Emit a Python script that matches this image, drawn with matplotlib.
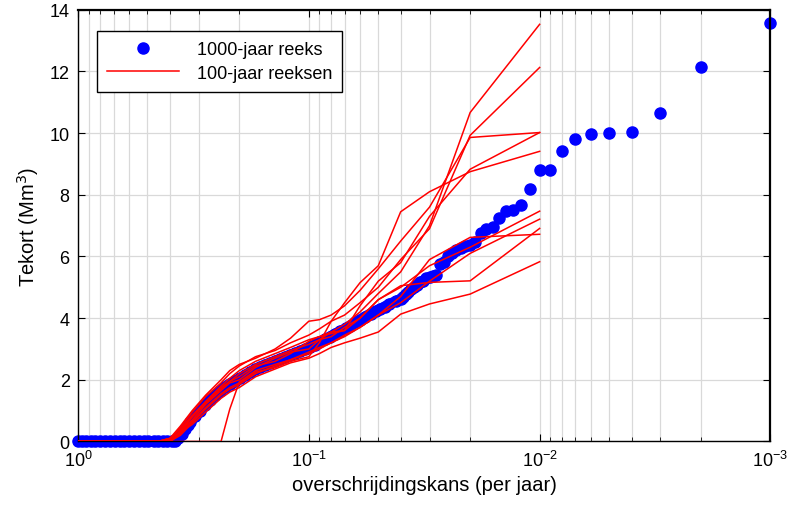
import numpy as np
import matplotlib
matplotlib.use("Agg")
import matplotlib.pyplot as plt

plt.rcParams['font.family'] = ['Liberation Sans', 'DejaVu Sans']

# ---------------- data ----------------
# 1000-year series: rank (exceedance prob = rank/1000) and deficit value
blue_rank = [1, 2, 3, 4, 5, 6, 7, 8, 9, 10, 11, 12, 13, 14, 15, 16, 17, 18, 19, 20,
             21, 22, 23, 24, 25, 26, 27, 28, 29, 30, 31, 32, 33, 34, 35, 36, 37, 38, 39,
             40, 42, 45, 47, 49, 51, 54, 57, 60, 63, 66, 69, 73, 77, 81, 85, 90, 94, 99,
             104, 109, 115, 121, 127, 133, 140, 147, 155, 163, 171, 180, 189, 199, 209,
             220, 231, 243, 255, 268, 282, 296, 311, 327, 335, 344, 356, 369, 380, 392,
             410, 430, 450, 470, 495, 520, 545, 570, 600, 630, 660, 690, 725, 760, 800,
             840, 880, 920, 960, 1000]
blue_val = [13.56, 12.16, 10.66, 10.03, 10.02, 9.96, 9.82, 9.42, 8.81, 8.80, 8.18, 7.66,
            7.51, 7.46, 7.25, 6.96, 6.89, 6.75, 6.46, 6.38, 6.33, 6.26, 6.21, 6.10, 6.02,
            5.83, 5.75, 5.40, 5.37, 5.33, 5.30, 5.22, 5.16, 5.08, 5.00, 4.94, 4.86, 4.78,
            4.70, 4.62, 4.55, 4.45, 4.37, 4.30, 4.24, 4.15, 4.05, 3.95, 3.86, 3.76, 3.67,
            3.58, 3.49, 3.40, 3.31, 3.22, 3.14, 3.07, 3.00, 2.93, 2.86, 2.80, 2.74, 2.68,
            2.61, 2.55, 2.49, 2.42, 2.34, 2.25, 2.15, 2.05, 1.97, 1.88, 1.77, 1.65, 1.50,
            1.35, 1.18, 1.00, 0.82, 0.62, 0.52, 0.40, 0.25, 0.10, 0.03, 0.0,
            0, 0, 0, 0, 0, 0, 0, 0, 0, 0, 0, 0, 0, 0, 0, 0, 0, 0, 0, 0]

# 100-year series: ranks (exceedance prob = rank/100) and values of 10 series
red_rank = [1, 2, 3, 4, 5, 6, 7, 8, 9, 10, 12, 14, 17, 20, 22, 24, 28, 32, 36, 40, 45, 100]
red_A = [13.53, 10.67, 7.00, 5.50, 4.80, 4.20, 3.80, 3.55, 3.40, 3.25, 2.85, 2.60, 2.45, 2.10, 1.95, 1.70, 1.25, 0.80, 0.35, 0, 0, 0]
red_B = [12.13, 9.93, 6.90, 5.90, 5.00, 4.50, 4.10, 3.90, 3.65, 3.45, 3.20, 2.95, 2.75, 2.45, 2.20, 1.90, 1.45, 0.95, 0.45, 0.05, 0, 0]
red_C = [10.02, 9.86, 7.60, 6.50, 5.60, 4.90, 4.40, 4.10, 3.95, 3.90, 3.35, 3.00, 2.70, 2.50, 2.30, 2.00, 1.50, 1.00, 0.50, 0.10, 0, 0]
red_D = [10.02, 8.83, 7.30, 5.80, 5.20, 4.40, 3.60, 3.55, 3.30, 3.00, 2.90, 2.70, 2.40, 2.00, 1.90, 1.65, 1.20, 0.70, 0.30, 0, 0, 0]
red_E = [9.41, 8.75, 8.10, 7.45, 5.70, 5.15, 4.50, 3.90, 3.20, 2.75, 2.60, 2.40, 2.25, 1.90, 1.75, 1.55, 1.10, 0.65, 0.25, 0, 0, 0]
red_F = [7.47, 6.30, 5.70, 5.00, 4.60, 4.00, 3.70, 3.40, 3.30, 3.15, 2.95, 2.75, 2.50, 2.20, 1.95, 1.75, 1.25, 0.80, 0.30, 0, 0, 0]
red_G = [7.21, 6.10, 5.20, 4.50, 4.10, 3.70, 3.40, 3.20, 3.05, 2.90, 2.65, 2.45, 2.20, 1.85, 1.70, 1.50, 1.05, 0.60, 0.20, 0, 0, 0]
red_H = [6.91, 5.21, 5.16, 5.05, 4.60, 4.00, 3.60, 3.50, 3.40, 3.30, 3.05, 2.85, 2.60, 2.30, 2.05, 1.80, 1.30, 0.85, 0.40, 0.10, 0, 0]
red_I = [6.72, 6.62, 5.90, 4.70, 4.10, 3.70, 3.45, 3.20, 3.00, 2.85, 2.65, 2.50, 2.30, 1.93, 1.05, 0, 0, 0, 0, 0, 0, 0]
red_J = [5.83, 4.78, 4.46, 4.13, 3.55, 3.35, 3.20, 3.05, 2.85, 2.70, 2.55, 2.35, 2.10, 1.75, 1.60, 1.40, 0.95, 0.55, 0.30, 0.10, 0, 0]
red_series = [red_A, red_B, red_C, red_D, red_E, red_F, red_G, red_H, red_I, red_J]

xlabel = "overschrijdingskans (per jaar)"
ylabel = "Tekort (Mm$^3$)"
legend_labels = ["1000-jaar reeks", "100-jaar reeksen"]

# ---------------- plot ----------------
fig = plt.figure(figsize=(7.99, 5.10), dpi=100)
ax = fig.add_axes([0.0976, 0.1324, 0.9643 - 0.0976, 0.9788 - 0.1324])

bp = np.array(blue_rank) / 1000.0
bv = np.array(blue_val)
dense = np.array(blue_rank) >= 36
# merged dots in the dense part
ax.plot(bp[dense], bv[dense], '-', color='blue', lw=7.5, solid_capstyle='round',
        zorder=2, clip_on=False)
ax.plot(bp, bv, 'o', color='blue', ms=8, mec='blue', zorder=2, clip_on=False,
        label=legend_labels[0])

rp = np.array(red_rank) / 100.0
for i, s in enumerate(red_series):
    ax.plot(rp, s, '-', color='red', lw=1.1, zorder=3,
            label=legend_labels[1] if i == 0 else None)

ax.set_xscale('log')
ax.set_xlim(1, 1e-3)
ax.set_ylim(0, 14)
ax.set_yticks(range(0, 15, 2))

ax.grid(True, which='major', color='#d9d9d9', lw=0.9)
ax.grid(True, which='minor', axis='x', color='#d9d9d9', lw=0.9)
ax.set_axisbelow(True)

ax.tick_params(which='both', direction='in', top=True, right=True, labelsize=13)
ax.tick_params(which='major', length=5, pad=6)
ax.tick_params(which='minor', length=3)
for sp in ax.spines.values():
    sp.set_linewidth(1.0)
ax.spines['top'].set_linewidth(1.6)
ax.spines['right'].set_linewidth(1.6)

ax.set_xlabel(xlabel, fontsize=14.5, labelpad=4)
ax.set_ylabel(ylabel, fontsize=14.5, labelpad=6)

leg = ax.legend(loc='upper left', bbox_to_anchor=(0.027, 0.95), borderaxespad=0,
                numpoints=1, fontsize=13, fancybox=False, framealpha=1,
                edgecolor='black', handlelength=4.0, handletextpad=1.0,
                borderpad=0.55, labelspacing=0.35)
leg.get_frame().set_linewidth(1.0)

fig.savefig("out.png", dpi=100)
